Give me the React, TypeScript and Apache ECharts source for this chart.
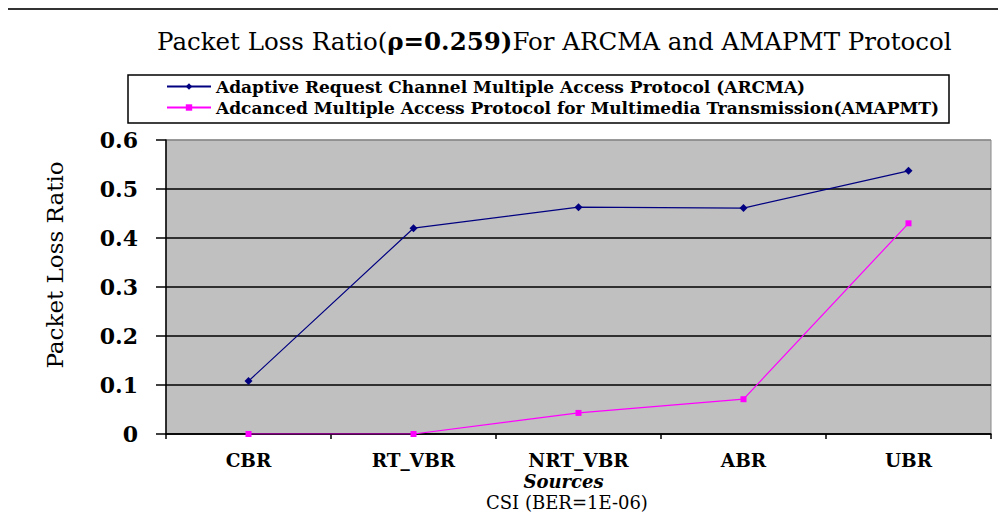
import React, { useEffect, useRef } from "react";
import * as echarts from "echarts";

const categories = ["CBR", "RT_VBR", "NRT_VBR", "ABR", "UBR"];
const arcmaValues = [0.108, 0.42, 0.463, 0.461, 0.537];
const amapmtValues = [0.0, 0.0, 0.043, 0.071, 0.43];
const seriesNames = [
  "Adaptive Request Channel Multiple Access Protocol (ARCMA)",
  "Adcanced Multiple Access Protocol for Multimedia Transmission(AMAPMT)",
];

const SERIF = "DejaVu Serif";

export default function App() {
  const ref = useRef<HTMLDivElement>(null);
  useEffect(() => {
    if (!ref.current) return;
    const chart = echarts.init(ref.current, undefined, { renderer: "svg" });
    chart.setOption({
      animation: false,
      backgroundColor: "#ffffff",
      title: [
        {
          text: "{n|Packet Loss Ratio(}{b|ρ=0.259)}{n|For ARCMA and AMAPMT Protocol}",
          left: 152,
          top: 24,
          textStyle: {
            rich: {
              n: { fontFamily: SERIF, fontSize: 24.5, fontWeight: "normal", color: "#000" },
              b: { fontFamily: SERIF, fontSize: 24.5, fontWeight: "bold", color: "#000" },
            },
          },
        },
        {
          text: "CSI (BER=1E-06)",
          left: 486,
          top: 493,
          padding: 0,
          textStyle: { fontFamily: SERIF, fontSize: 18, fontWeight: "normal", color: "#000" },
        },
      ],
      graphic: [
        {
          type: "rect",
          shape: { x: 4, y: 9, width: 1010, height: 520 },
          style: { fill: "none", stroke: "#333", lineWidth: 2 },
          z: -1,
        },
        {
          type: "rect",
          shape: { x: 128, y: 75, width: 821, height: 48 },
          style: { fill: "#fff", stroke: "#000", lineWidth: 1.5 },
          z: -1,
        },
      ],
      legend: {
        orient: "vertical",
        left: 166,
        top: 78,
        itemGap: 4,
        itemWidth: 44,
        itemHeight: 8,
        padding: 0,
        textStyle: { fontFamily: SERIF, fontSize: 17, fontWeight: "bold", color: "#000" },
        data: seriesNames,
      },
      grid: {
        left: 166,
        right: 15,
        top: 140,
        bottom: 80,
        show: true,
        backgroundColor: "#c0c0c0",
        borderColor: "#8a8a8a",
        borderWidth: 1,
      },
      xAxis: {
        type: "category",
        data: categories,
        boundaryGap: true,
        name: "Sources",
        nameLocation: "middle",
        nameGap: 38,
        nameMoveOverlap: false,
        nameTextStyle: {
          fontFamily: SERIF,
          fontSize: 18,
          fontWeight: "bold",
          fontStyle: "italic",
          color: "#000",
          padding: [0, 30, 0, 0],
        },
        axisLine: { show: true, lineStyle: { color: "#000", width: 1.5 } },
        axisTick: { show: true, length: 5, lineStyle: { color: "#000", width: 1.5 } },
        axisLabel: {
          margin: 17,
          fontFamily: SERIF,
          fontSize: 18.5,
          fontWeight: "bold",
          color: "#000",
        },
        splitLine: { show: false },
      },
      yAxis: {
        type: "value",
        min: 0,
        max: 0.6,
        interval: 0.1,
        name: "Packet Loss Ratio",
        nameLocation: "middle",
        nameGap: 100,
        nameMoveOverlap: false,
        nameTextStyle: { fontFamily: SERIF, fontSize: 23, color: "#000", padding: [0, 0, 0, 44] },
        axisLine: { show: true, lineStyle: { color: "#000", width: 1.5 } },
        axisTick: { show: true, length: 10, lineStyle: { color: "#000", width: 1.5 } },
        axisLabel: {
          margin: 28,
          fontFamily: SERIF,
          fontSize: 22,
          fontWeight: "bold",
          color: "#000",
        },
        splitLine: {
          show: true,
          lineStyle: {
            color: ["#000", "#000", "#000", "#000", "#000", "#000", "#8a8a8a"],
            width: 1.5,
          },
        },
      },
      series: [
        {
          name: seriesNames[0],
          type: "line",
          data: arcmaValues,
          symbol: "diamond",
          symbolSize: 8,
          lineStyle: { color: "#000080", width: 1.2 },
          itemStyle: { color: "#000080" },
        },
        {
          name: seriesNames[1],
          type: "line",
          data: amapmtValues,
          symbol: "rect",
          symbolSize: 6,
          lineStyle: { color: "#ff00ff", width: 1.2 },
          itemStyle: { color: "#ff00ff" },
        },
      ],
    });
    return () => chart.dispose();
  }, []);
  return <div ref={ref} style={{ width: 1006, height: 514, marginLeft: -8, marginTop: -8 }} />;
}
